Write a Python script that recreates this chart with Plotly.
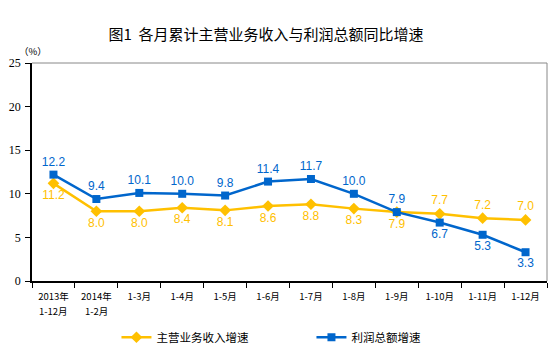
import plotly.graph_objects as go

categories = ["2013年1-12月", "2014年1-2月", "1-3月", "1-4月", "1-5月", "1-6月",
              "1-7月", "1-8月", "1-9月", "1-10月", "1-11月", "1-12月"]
tick_line1 = ["2013年", "2014年", "1-3月", "1-4月", "1-5月", "1-6月",
              "1-7月", "1-8月", "1-9月", "1-10月", "1-11月", "1-12月"]
tick_line2 = ["1-12月", "1-2月", "", "", "", "", "", "", "", "", "", ""]
revenue = [11.2, 8.0, 8.0, 8.4, 8.1, 8.6, 8.8, 8.3, 7.9, 7.7, 7.2, 7.0]
profit = [12.2, 9.4, 10.1, 10.0, 9.8, 11.4, 11.7, 10.0, 7.9, 6.7, 5.3, 3.3]
rev_pos = ["bottom center"] * 9 + ["top center"] * 3
pro_pos = ["top center"] * 9 + ["bottom center"] * 3

yellow = "#FFC000"
blue = "#0066CC"
tick_font = dict(size=9.5, family="Noto Sans CJK SC", color="#000")

fig = go.Figure()
fig.add_trace(go.Scatter(
    x=categories, y=revenue, name="主营业务收入增速", mode="lines+markers+text",
    line=dict(color=yellow, width=2.5), marker=dict(symbol="diamond", size=9, color=yellow),
    text=[f"{v:.1f}" for v in revenue], textposition=rev_pos,
    textfont=dict(color=yellow, size=12, family="Liberation Sans, Arial"),
))
fig.add_trace(go.Scatter(
    x=categories, y=profit, name="利润总额增速", mode="lines+markers+text",
    line=dict(color=blue, width=2.5), marker=dict(symbol="square", size=8, color=blue),
    text=[f"{v:.1f}" for v in profit], textposition=pro_pos,
    textfont=dict(color=blue, size=12, family="Liberation Sans, Arial"),
))

annotations = [dict(text="（%）", xref="paper", yref="paper", x=-0.03, y=1.055,
                    xanchor="left", yanchor="middle", showarrow=False,
                    font=dict(size=9.5, family="Noto Sans CJK SC", color="#000"))]
for cat, t2 in zip(categories, tick_line2):
    if t2:
        annotations.append(dict(text=t2, x=cat, xref="x", yref="paper", y=-0.137,
                                xanchor="center", yanchor="middle", showarrow=False,
                                font=tick_font))

fig.update_layout(
    width=554, height=352,
    margin=dict(l=32, r=7, t=63, b=71, autoexpand=False),
    paper_bgcolor="white", plot_bgcolor="white",
    title=dict(text="图1  各月累计主营业务收入与利润总额同比增速", x=0.48, xanchor="center",
               y=0.9, yanchor="middle",
               font=dict(size=15, color="#000000", family="Noto Sans CJK SC")),
    showlegend=True,
    legend=dict(orientation="h", x=0.164, xanchor="left", y=-0.258, yanchor="middle",
                font=dict(size=11.5, family="Noto Sans CJK SC", color="#000"),
                itemwidth=30, entrywidth=150, tracegroupgap=0),
    xaxis=dict(
        type="category", tickson="boundaries", ticks="outside", ticklen=5, tickcolor="#000",
        showline=True, linecolor="#000", linewidth=1.5, mirror=False, showgrid=False,
        tickvals=categories, ticktext=tick_line1,
        tickfont=tick_font, ticklabelstandoff=6,
        range=[-0.5, 11.5],
    ),
    yaxis=dict(
        range=[0, 25], dtick=5, ticks="outside", ticklen=5, tickcolor="#000",
        showline=True, linecolor="#000", linewidth=1.5, showgrid=False, zeroline=False,
        tickfont=dict(size=12, family="Liberation Serif, Times New Roman", color="#000"),
        ticklabelstandoff=2,
    ),
    shapes=[
        dict(type="line", xref="paper", yref="paper", x0=0, x1=1, y0=1, y1=1,
             line=dict(color="#888", width=1)),
        dict(type="line", xref="paper", yref="paper", x0=1, x1=1, y0=0, y1=1,
             line=dict(color="#888", width=1)),
    ],
    annotations=annotations,
)

fig.write_html("out.html")
